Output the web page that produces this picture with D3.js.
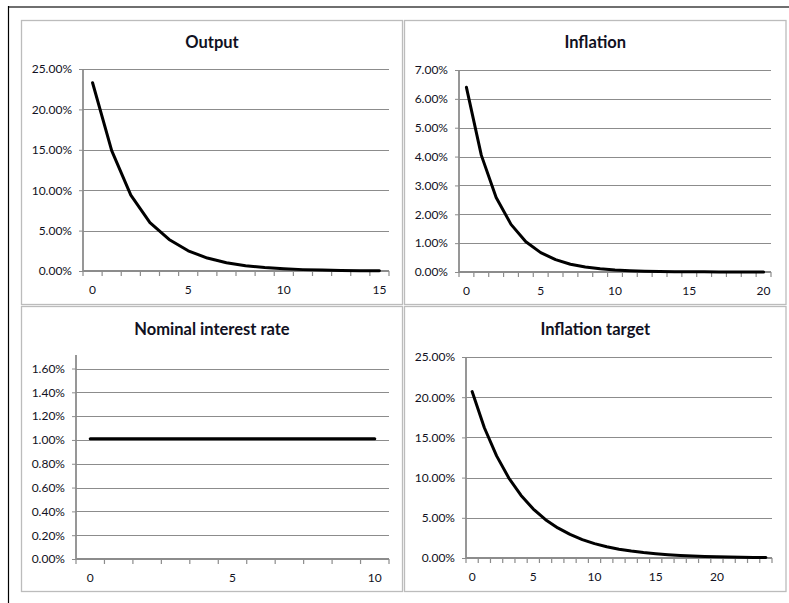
<!DOCTYPE html>
<html>
<head>
<meta charset="utf-8">
<script src="https://cdn.jsdelivr.net/npm/d3@7/dist/d3.min.js"></script>
<style>
  html, body { margin: 0; padding: 0; background: #fff; }
  svg { display: block; }
  text { font-family: Lato, "Open Sans", sans-serif; fill: #111122; }
</style>
</head>
<body>
<svg id="chart" width="789" height="603"></svg>
<script>
// ---- Data ----
const outputPeriods = d3.range(0, 16);
const outputValues = [0.233, 0.149, 0.094, 0.060, 0.039, 0.025, 0.016, 0.0102, 0.0066, 0.0042,
                      0.0027, 0.0017, 0.0011, 0.0007, 0.00045, 0.0003];

const inflationPeriods = d3.range(0, 21);
const inflationValues = [0.064, 0.0405, 0.0258, 0.0165, 0.0105, 0.0067, 0.0043, 0.0027, 0.0017, 0.0011,
                         0.0007, 0.00045, 0.0003, 0.0002, 0.00012, 0.00008, 0.00005, 0.00003, 0.00002, 0.00001, 0.00001];

const ratePeriods = d3.range(0, 11);
const rateValues = [0.0101, 0.0101, 0.0101, 0.0101, 0.0101, 0.0101, 0.0101, 0.0101, 0.0101, 0.0101, 0.0101];

const targetPeriods = d3.range(0, 25);
const targetValues = [0.207, 0.162, 0.127, 0.0994, 0.0778, 0.0609, 0.0477, 0.0374, 0.0293, 0.0229,
                      0.0179, 0.0140, 0.0110, 0.0086, 0.0067, 0.0053, 0.0041, 0.0032, 0.0025, 0.0020,
                      0.0016, 0.0012, 0.00095, 0.00075, 0.00058];

const outputTicks = [0, 0.05, 0.10, 0.15, 0.20, 0.25];
const inflationTicks = [0, 0.01, 0.02, 0.03, 0.04, 0.05, 0.06, 0.07];
const rateTicks = [0, 0.002, 0.004, 0.006, 0.008, 0.010, 0.012, 0.014, 0.016];
const targetTicks = [0, 0.05, 0.10, 0.15, 0.20, 0.25];

const titles = ["Output", "Inflation", "Nominal interest rate", "Inflation target"];

// ---- Layout ----
const svg = d3.select("#chart");

// outer frame lines
svg.append("line").attr("x1", 8).attr("x2", 789).attr("y1", 7).attr("y2", 7)
  .attr("stroke", "#6f6f6f").attr("stroke-width", 2);
svg.append("line").attr("x1", 8.5).attr("x2", 8.5).attr("y1", 6).attr("y2", 603)
  .attr("stroke", "#000").attr("stroke-width", 1.2);

const panels = [
  { title: titles[0], box: [21.5, 20.5, 381, 284], periods: outputPeriods, values: outputValues,
    ticks: outputTicks, fmt: d3.format(".2%"), x0: 83, x1: 389, y0: 271, y1: 69, yMax: 0.25, axisTop: 69, titleY: 48 },
  { title: titles[1], box: [404.5, 20.5, 381.5, 284], periods: inflationPeriods, values: inflationValues,
    ticks: inflationTicks, fmt: d3.format(".2%"), x0: 459, x1: 771, y0: 272, y1: 70, yMax: 0.07, axisTop: 70, titleY: 48 },
  { title: titles[2], box: [21.5, 306.5, 381, 285], periods: ratePeriods, values: rateValues,
    ticks: rateTicks, fmt: d3.format(".2%"), x0: 76, x1: 389, y0: 559, y1: 368.5, yMax: 0.016, axisTop: 355, titleY: 335 },
  { title: titles[3], box: [404.5, 306.5, 381.5, 285], periods: targetPeriods, values: targetValues,
    ticks: targetTicks, fmt: d3.format(".2%"), x0: 466, x1: 772, y0: 558, y1: 357, yMax: 0.25, axisTop: 357, titleY: 335 }
];

panels.forEach(p => {
  const g = svg.append("g");
  // panel border
  g.append("rect").attr("x", p.box[0]).attr("y", p.box[1]).attr("width", p.box[2]).attr("height", p.box[3])
    .attr("fill", "#fff").attr("stroke", "#bcbcbc").attr("stroke-width", 1.3);

  // title
  g.append("text").attr("x", p.box[0] + p.box[2] / 2).attr("y", p.titleY)
    .attr("text-anchor", "middle").attr("font-weight", "bold").attr("font-size", 16.5)
    .text(p.title);

  const x = d3.scaleBand().domain(p.periods).range([p.x0, p.x1]).paddingInner(0).paddingOuter(0);
  const y = d3.scaleLinear().domain([0, p.yMax]).range([p.y0, p.y1]);

  // gridlines
  g.append("g").selectAll("line").data(p.ticks.filter(t => t > 0)).join("line")
    .attr("x1", p.x0).attr("x2", p.x1)
    .attr("y1", d => Math.round(y(d)) + 0.5).attr("y2", d => Math.round(y(d)) + 0.5)
    .attr("stroke", "#8c8c8c").attr("stroke-width", 1);

  // y axis
  const yAxis = d3.axisLeft(y).tickValues(p.ticks).tickFormat(p.fmt).tickSize(4).tickPadding(7);
  const ya = g.append("g").attr("transform", `translate(${p.x0},0)`).call(yAxis);
  ya.select(".domain").remove();
  ya.selectAll(".tick line").attr("stroke", "#8c8c8c");
  ya.selectAll(".tick text").attr("font-size", 12).attr("font-family", "Lato, 'Open Sans', sans-serif").attr("fill", "#111122");
  g.append("line").attr("x1", p.x0).attr("x2", p.x0).attr("y1", p.axisTop).attr("y2", p.y0)
    .attr("stroke", "#8c8c8c").attr("stroke-width", 1.8);

  // x axis
  const xAxis = d3.axisBottom(x).tickValues(p.periods.filter(d => d % 5 === 0)).tickSize(0).tickPadding(14);
  const xa = g.append("g").attr("transform", `translate(0,${p.y0})`).call(xAxis);
  xa.select(".domain").remove();
  xa.selectAll(".tick text").attr("font-size", 12).attr("font-family", "Lato, 'Open Sans', sans-serif").attr("fill", "#111122");
  // tick marks at category boundaries
  const bounds = p.periods.map(d => x(d)).concat([p.x1]);
  g.append("g").selectAll("line").data(bounds).join("line")
    .attr("x1", d => d).attr("x2", d => d).attr("y1", p.y0).attr("y2", p.y0 + 5)
    .attr("stroke", "#8c8c8c").attr("stroke-width", 1.2);
  g.append("line").attr("x1", p.x0).attr("x2", p.x1).attr("y1", p.y0).attr("y2", p.y0)
    .attr("stroke", "#8c8c8c").attr("stroke-width", 1.8);

  // data line
  const line = d3.line().x((d, i) => x(p.periods[i]) + x.bandwidth() / 2).y(d => y(d)).curve(d3.curveLinear);
  g.append("path").datum(p.values).attr("d", line)
    .attr("fill", "none").attr("stroke", "#000").attr("stroke-width", 3)
    .attr("stroke-linejoin", "round").attr("stroke-linecap", "round");
});
</script>
</body>
</html>
